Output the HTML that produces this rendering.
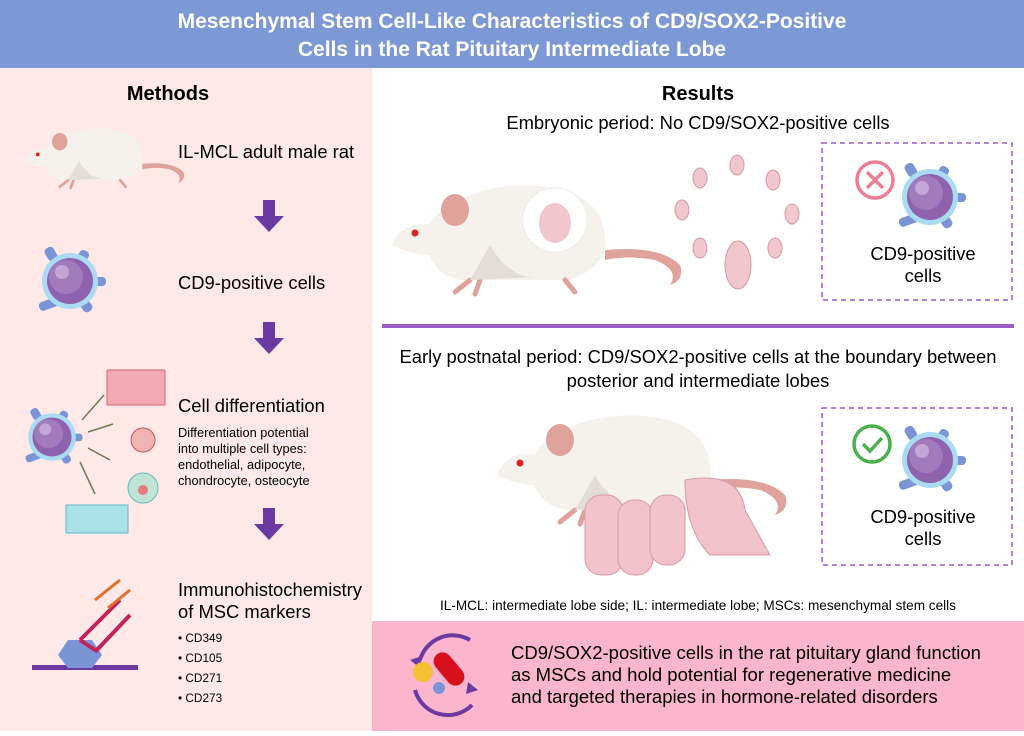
<!DOCTYPE html>
<html><head><meta charset="utf-8"><style>
body{margin:0;width:1024px;height:731px;overflow:hidden;font-family:"Liberation Sans",Arial,sans-serif}
svg text{font-family:"Liberation Sans",Arial,sans-serif}
</style></head><body>
<svg width="1024" height="731" viewBox="0 0 1024 731">
<defs>
<g id="cell">
<rect x="-6" y="-34" width="10" height="22" rx="4" fill="#7b95d4" transform="rotate(30)"/>
<rect x="14" y="-4" width="22" height="9" rx="4" fill="#7b95d4"/>
<rect x="-6" y="14" width="10" height="22" rx="4" fill="#7b95d4" transform="rotate(-35)"/>
<rect x="-38" y="10" width="22" height="9" rx="4" fill="#7b95d4" transform="rotate(-20)"/>
<rect x="-8" y="-40" width="10" height="14" rx="4" fill="#7b95d4" transform="rotate(-30)"/>
<circle r="28" fill="#a9dcf2"/><circle r="23" fill="#8e62ad"/><circle cx="-4" cy="-4" r="17" fill="#a27bbd"/><circle cx="-8" cy="-9" r="7" fill="#c3a6d6"/>
</g>
<g id="rat">
<path d="M-75,40 Q-100,5 -60,-20 Q-20,-45 40,-38 Q90,-30 95,10 Q100,40 60,55 L-50,55 Q-70,50 -75,40Z" fill="#f5f2ee"/>
<path d="M-75,0 Q-110,-5 -118,20 Q-95,32 -70,30Z" fill="#f5f2ee"/>
<ellipse cx="-55" cy="-15" rx="14" ry="16" fill="#e0a39c"/>
<circle cx="-95" cy="8" r="3.5" fill="#e02020"/>
<path d="M95,25 Q150,20 170,40 Q175,55 160,60 Q170,45 145,35 Q120,30 95,35Z" fill="#e0a39c"/>
<path d="M-40,55 l-15,12 M-30,55 l-5,14 M55,55 l10,12" stroke="#e0a39c" stroke-width="5" stroke-linecap="round"/>
<path d="M-20,20 Q0,55 30,52 L-40,55Z" fill="#e2ddd7"/>
</g>
<g id="embryo"><ellipse rx="7" ry="10" fill="#f1c6cf" stroke="#d79aa8"/></g>
</defs>
<rect width="1024" height="731" fill="#fff"/>
<rect x="0" y="68" width="372" height="663" fill="#fee9e8"/>
<rect width="1024" height="68" fill="#7c98d5"/>
<text x="512" y="28" text-anchor="middle" fill="#fff" font-size="21" font-weight="bold">Mesenchymal Stem Cell-Like Characteristics of CD9/SOX2-Positive</text>
<text x="512" y="56" text-anchor="middle" fill="#fff" font-size="21" font-weight="bold">Cells in the Rat Pituitary Intermediate Lobe</text>

<text x="168" y="100" text-anchor="middle" font-size="20" font-weight="bold">Methods</text>
<g transform="translate(90,150) scale(0.55)"><use href="#rat"/></g>
<text x="178" y="158" font-size="18.4">IL-MCL adult male rat</text>
<g fill="#6a3aa0">
<path d="M263,200h12v16h9l-15,16l-15,-16h9z"/>
<path d="M263,322h12v16h9l-15,16l-15,-16h9z"/>
<path d="M263,508h12v16h9l-15,16l-15,-16h9z"/>
</g>
<g transform="translate(70,281)"><use href="#cell"/></g>
<text x="178" y="289" font-size="18.4">CD9-positive cells</text>
<g transform="translate(52,437) scale(0.85)"><use href="#cell"/></g>
<g stroke="#775" stroke-width="1.5" fill="none"><path d="M82,420l22,-25M88,432l25,-8M88,448l22,12M80,462l15,32"/></g>
<g>
<rect x="107" y="370" width="58" height="35" fill="#f3a9b1" stroke="#d06873"/>
<rect x="66" y="505" width="62" height="28" fill="#a9e2e9" stroke="#5fb8c6"/>
<circle cx="143" cy="440" r="12" fill="#f1b3b3" stroke="#c55"/>
<circle cx="143" cy="488" r="15" fill="#bfe4d6" stroke="#6bb"/><circle cx="143" cy="490" r="5" fill="#e67c7c"/>
</g>
<text x="178" y="412" font-size="18.4">Cell differentiation</text>
<text font-size="12.8"><tspan x="178" y="437">Differentiation potential</tspan><tspan x="178" y="453">into multiple cell types:</tspan><tspan x="178" y="469">endothelial, adipocyte,</tspan><tspan x="178" y="485">chondrocyte, osteocyte</tspan></text>
<g>
<rect x="32" y="665" width="106" height="5" fill="#6a3aa0"/>
<polygon points="68,640 92,640 102,655 92,668 68,668 58,655" fill="#7b95d4"/>
<path d="M80,640 L120,600 M95,652 L130,615 M80,640 L95,650" stroke="#c0245a" stroke-width="4" fill="none"/>
<path d="M95,600 L120,580 M108,608 L130,590" stroke="#e0702a" stroke-width="3" fill="none"/>
</g>
<text font-size="18.4"><tspan x="178" y="596">Immunohistochemistry</tspan><tspan x="178" y="618">of MSC markers</tspan></text>
<text font-size="11.8"><tspan x="178" y="642">• CD349</tspan><tspan x="178" y="662">• CD105</tspan><tspan x="178" y="682">• CD271</tspan><tspan x="178" y="702">• CD273</tspan></text>

<text x="698" y="100" text-anchor="middle" font-size="20" font-weight="bold">Results</text>
<text x="698" y="129" text-anchor="middle" font-size="18.4">Embryonic period: No CD9/SOX2-positive cells</text>
<g transform="translate(510,225)"><use href="#rat"/><circle cx="45" cy="-5" r="32" fill="#fff" stroke="#eee"/><ellipse cx="45" cy="-2" rx="16" ry="20" fill="#f1c6cf"/></g>
<g>
<use href="#embryo" x="737" y="165"/><use href="#embryo" x="700" y="178"/><use href="#embryo" x="773" y="180"/><use href="#embryo" x="682" y="210"/><use href="#embryo" x="792" y="214"/><use href="#embryo" x="700" y="248"/><use href="#embryo" x="775" y="248"/>
<ellipse cx="738" cy="265" rx="13" ry="24" fill="#f1c6cf" stroke="#d79aa8"/>
</g>
<rect x="822" y="143" width="190" height="157" fill="none" stroke="#9b5cc8" stroke-width="1.5" stroke-dasharray="5,4"/>
<g transform="translate(930,197)"><use href="#cell"/></g>
<g><circle cx="875" cy="180" r="18" fill="#fff" stroke="#ef7f94" stroke-width="3.5"/><path d="M867,172l16,16M883,172l-16,16" stroke="#ef7f94" stroke-width="3.5"/></g>
<text text-anchor="middle" font-size="18.4"><tspan x="923" y="260">CD9-positive</tspan><tspan x="923" y="282">cells</tspan></text>
<rect x="382" y="324" width="632" height="4" fill="#9b5cc8"/>
<text text-anchor="middle" font-size="18.4"><tspan x="698" y="363">Early postnatal period: CD9/SOX2-positive cells at the boundary between</tspan><tspan x="698" y="387">posterior and intermediate lobes</tspan></text>
<g transform="translate(615,455)"><use href="#rat"/></g>
<g fill="#f2c3cc" stroke="#d89aa6">
<rect x="585" y="495" width="38" height="80" rx="16"/><rect x="618" y="500" width="35" height="75" rx="16"/><rect x="650" y="495" width="35" height="70" rx="16"/>
<path d="M685,480 Q740,470 745,510 L770,555 L710,555 Q685,530 685,480Z"/>
</g>
<rect x="822" y="408" width="190" height="157" fill="none" stroke="#9b5cc8" stroke-width="1.5" stroke-dasharray="5,4"/>
<g transform="translate(930,460)"><use href="#cell"/></g>
<g><circle cx="872" cy="444" r="18" fill="#fff" stroke="#4caf50" stroke-width="3.5"/><path d="M863,444l7,7l12,-13" stroke="#4caf50" stroke-width="3.5" fill="none"/></g>
<text text-anchor="middle" font-size="18.4"><tspan x="923" y="523">CD9-positive</tspan><tspan x="923" y="545">cells</tspan></text>
<text x="698" y="610" text-anchor="middle" font-size="13.6">IL-MCL: intermediate lobe side; IL: intermediate lobe; MSCs: mesenchymal stem cells</text>
<rect x="372" y="621" width="652" height="110" fill="#fbb6cd"/>
<g>
<path d="M420,660 A34,34 0 0 1 470,640" stroke="#6a3aa0" stroke-width="4" fill="none"/>
<path d="M472,705 A34,34 0 0 1 415,690" stroke="#6a3aa0" stroke-width="4" fill="none"/>
<path d="M410,660 l12,-4 l-2,12z M478,690 l-12,4 l2,-12z" fill="#6a3aa0"/>
<circle cx="423" cy="672" r="10" fill="#f5c032"/>
<rect x="440" y="650" width="18" height="38" rx="9" fill="#d8101e" transform="rotate(-40 449 669)"/>
<circle cx="439" cy="688" r="6" fill="#7b95d4"/>
</g>
<text font-size="18.5"><tspan x="511" y="659">CD9/SOX2-positive cells in the rat pituitary gland function</tspan><tspan x="511" y="681">as MSCs and hold potential for regenerative medicine</tspan><tspan x="511" y="703">and targeted therapies in hormone-related disorders</tspan></text>
</svg>
</body></html>
